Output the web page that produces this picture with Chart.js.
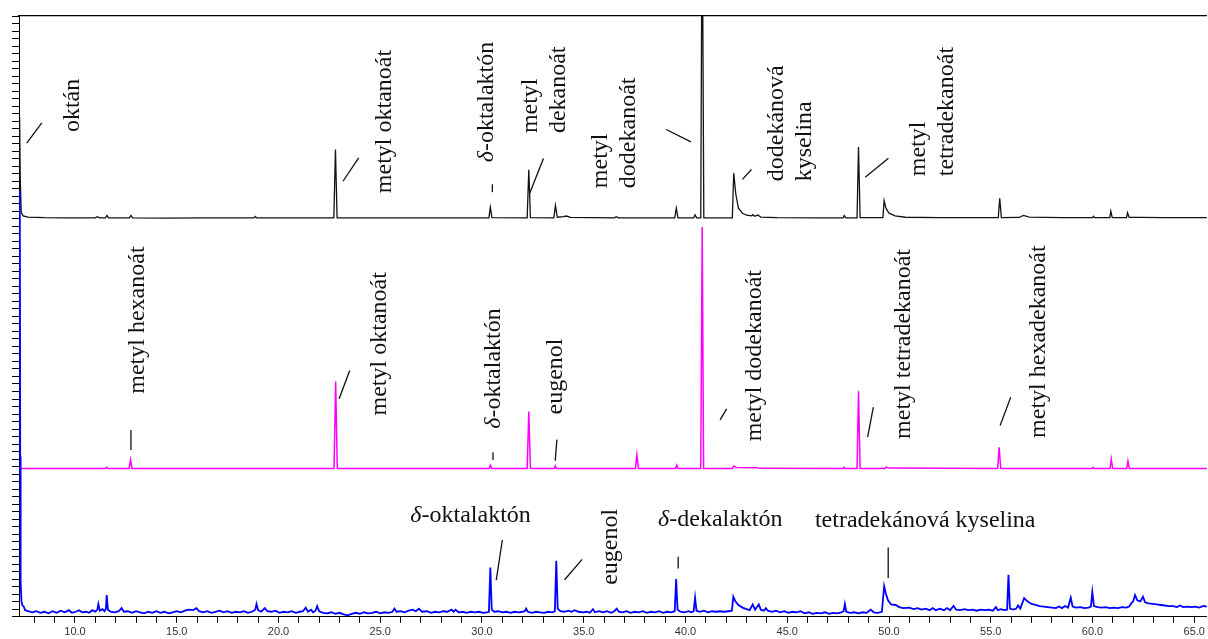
<!DOCTYPE html>
<html><head><meta charset="utf-8">
<script src="https://cdn.jsdelivr.net/npm/chart.js@4.4.1/dist/chart.umd.min.js"></script>
<style>html,body{margin:0;padding:0;background:#fff;overflow:hidden}</style>
</head><body>
<canvas id="c" width="1208" height="639"></canvas>
<script>
// ---- data (retention time [min], relative intensity) ----
const xMin = 7.25, xMax = 65.62;
const majorTicks = [10, 15, 20, 25, 30, 35, 40, 45, 50, 55, 60, 65];

const blackTrace = [
 [7.28,50],[7.31,20],[7.36,3],[7.45,1.2],[7.7,0.6],[8.5,0.3],[9.5,0.2],[10.5,0.2],[11.0,0.2],[11.1,0.8],[11.2,0.2],
 [11.5,0.2],[11.57,1.4],[11.65,0.2],[12.68,0.2],[12.75,1.4],[12.83,0.2],[14.5,0.1],[16.2,0.2],[18.8,0.2],[18.86,0.9],[18.93,0.2],
 [22.72,0.2],[22.80,34],[22.88,0.2],[25.5,0.2],[27.2,0.2],[30.34,0.2],[30.41,5.4],[30.49,0.3],[32.22,0.2],[32.30,24],[32.38,0.3],
 [33.53,0.2],[33.61,6.4],[33.7,0.5],[34.0,0.8],[34.15,1.1],[34.35,0.4],[36.5,0.2],[36.6,0.8],[36.7,0.2],[39.47,0.2],[39.55,5],[39.63,0.2],
 [40.4,0.2],[40.47,1.7],[40.55,0.2],[40.75,0.2],[40.80,120],[40.84,120],[40.90,0.2],[42.3,0.2],[42.37,22.3],[42.47,12],[42.6,5],[42.8,2.5],[43.0,1.5],
 [43.25,1.2],[43.3,1.8],[43.4,1.0],[43.55,1.6],[43.7,0.6],[44.5,0.3],[46.5,0.2],[47.75,0.2],[47.8,1.3],[47.88,0.2],[48.43,0.2],[48.50,35.2],[48.58,0.3],
 [49.7,0.3],[49.76,8.7],[49.85,5],[50.0,2.5],[50.3,1.2],[50.8,0.5],[52.5,0.3],[53.2,0.3],[55.37,0.3],[55.44,9.9],[55.52,0.3],[56.4,0.4],
 [56.6,1.4],[56.9,0.6],[58.5,0.3],[60.0,0.3],[60.04,1.0],[60.1,0.3],[60.85,0.3],[60.9,3.5],[60.97,0.3],[61.67,0.3],[61.72,2.8],[61.8,0.5],
 [62.3,0.4],[63.5,0.3],[65.62,0.3]
];

const magentaTrace = [
 [7.26,0],[11.5,0],[11.56,0.5],[11.62,0],[12.66,0],[12.73,3.7],[12.8,0],[22.73,0],[22.81,36],[22.89,0],[30.35,0],[30.41,1.4],[30.48,0],
 [32.22,0],[32.30,23.6],[32.38,0],[33.55,0],[33.6,1.1],[33.66,0],[37.54,0],[37.61,5.7],[37.69,0],[39.51,0],[39.57,1.4],[39.63,0],
 [40.75,0],[40.82,100],[40.89,0],[42.3,0],[42.37,1.1],[42.5,0.5],[43.5,0.4],[43.65,0.1],[47.75,0],[47.8,0.5],[47.85,0],
 [48.43,0],[48.50,32],[48.58,0],[49.8,0],[49.86,0.6],[50.0,0.2],[55.34,0],[55.41,8.8],[55.49,0],[59.98,0],[60.03,0.4],[60.08,0],
 [60.86,0],[60.92,3.9],[60.99,0],[61.68,0],[61.74,3.2],[61.81,0],[65.62,0]
];

const blueTrace = [
 [7.29,811],[7.31,300],[7.33,60],[7.37,22],[7.42,14],[7.48,12],[7.55,5],[7.7,3],[7.9,1],[8.1,3],[8.3,0],[8.5,2],[8.7,-1],[8.9,3],[9.1,0],
 [9.3,4],[9.5,1],[9.7,5],[9.85,0],[10.05,2],[10.2,5],[10.35,1],[10.55,2],[10.7,0],[10.85,5],[11.0,2],[11.1,6],[11.15,17],[11.22,4],[11.35,7],
 [11.45,3],[11.52,8],[11.56,34],[11.62,6],[11.75,2],[11.95,1],[12.15,3],[12.29,9],[12.4,2],[12.6,3],[12.8,0],[13.0,3],[13.2,1],[13.4,-1],
 [13.6,2],[13.8,0],[14.0,3],[14.2,0],[14.4,2],[14.6,-1],[14.8,1],[15.0,3],[15.2,1],[15.4,4],[15.6,6],[15.8,5],[15.97,9],[16.1,3],[16.3,1],
 [16.5,3],[16.7,0],[16.9,2],[17.1,4],[17.3,1],[17.5,3],[17.7,0],[17.9,2],[18.1,1],[18.3,3],[18.5,0],[18.7,2],[18.86,6],[18.92,17],[19.0,5],
 [19.15,2],[19.33,9],[19.45,3],[19.65,2],[19.85,4],[20.05,0],[20.25,2],[20.45,1],[20.65,3],[20.85,0],[21.05,2],[21.2,3],[21.34,10],[21.45,2],
 [21.6,6],[21.7,1],[21.82,4],[21.9,13],[22.0,3],[22.2,0],[22.4,-1],[22.6,1],[22.8,-2],[23.0,0],[23.2,-3],[23.4,-5],[23.6,-2],[23.8,0],
 [24.0,-2],[24.2,1],[24.4,-1],[24.6,0],[24.8,2],[25.0,-1],[25.2,1],[25.4,0],[25.6,2],[25.7,8],[25.8,2],[26.0,3],[26.2,1],[26.4,4],[26.6,6],
 [26.75,3],[26.9,8],[27.05,2],[27.3,3],[27.5,0],[27.7,2],[27.9,1],[28.1,3],[28.3,2],[28.5,6],[28.6,2],[28.7,6],[28.85,1],[29.05,2],[29.25,0],
 [29.45,2],[29.65,1],[29.85,2],[30.05,0],[30.25,1],[30.34,2],[30.41,87],[30.48,6],[30.6,2],[30.8,3],[31.0,1],[31.2,2],[31.4,0],[31.6,2],
 [31.8,1],[32.0,2],[32.1,3],[32.17,8],[32.25,2],[32.45,0],[32.65,2],[32.85,1],[33.05,0],[33.25,2],[33.45,1],[33.58,3],[33.65,100],[33.72,8],
 [33.85,3],[34.05,2],[34.25,4],[34.4,2],[34.55,5],[34.75,2],[34.95,1],[35.15,2],[35.3,0],[35.45,7],[35.55,1],[35.75,3],[35.95,1],[36.15,3],
 [36.35,0],[36.5,3],[36.62,8],[36.72,2],[36.9,1],[37.1,3],[37.3,0],[37.5,2],[37.7,1],[37.9,3],[38.1,0],[38.3,2],[38.5,1],[38.7,3],[38.9,0],
 [39.1,2],[39.3,1],[39.47,3],[39.54,65],[39.61,6],[39.75,2],[39.95,1],[40.15,3],[40.3,1],[40.4,3],[40.47,29],[40.54,4],[40.7,2],[40.9,4],
 [41.1,1],[41.3,3],[41.5,2],[41.7,3],[41.9,2],[42.1,3],[42.28,4],[42.35,31],[42.45,22],[42.6,15],[42.8,10],[43.0,7],[43.15,5],[43.3,16],
 [43.42,6],[43.6,16],[43.7,6],[43.85,4],[43.95,9],[44.05,4],[44.25,2],[44.45,4],[44.65,1],[44.85,3],[45.05,0],[45.25,2],[45.45,1],[45.65,3],
 [45.85,-1],[46.05,1],[46.25,-2],[46.45,0],[46.65,-1],[46.85,1],[47.05,-2],[47.25,0],[47.45,-1],[47.65,1],[47.77,3],[47.83,17],[47.9,2],
 [48.1,0],[48.3,1],[48.5,-1],[48.7,1],[48.9,0],[49.1,6],[49.25,1],[49.45,0],[49.65,2],[49.76,51],[49.85,36],[49.95,24],[50.1,16],[50.33,15],
 [50.5,11],[50.7,9],[50.99,10],[51.2,7],[51.4,9],[51.6,6],[51.8,8],[52.0,5],[52.15,9],[52.3,5],[52.5,8],[52.7,5],[52.85,9],[53.0,5],[53.17,13],
 [53.3,6],[53.5,5],[53.7,7],[53.9,5],[54.1,6],[54.3,4],[54.5,6],[54.7,5],[54.9,6],[55.1,4],[55.25,11],[55.35,5],[55.5,7],[55.65,5],[55.8,6],
 [55.87,73],[55.94,8],[56.1,6],[56.25,8],[56.34,14],[56.45,8],[56.64,28],[56.8,22],[57.0,17],[57.2,15],[57.4,13],[57.6,12],[57.8,11],[58.0,10],
 [58.2,9],[58.35,12],[58.5,9],[58.65,13],[58.8,10],[58.93,29],[59.02,12],[59.2,10],[59.4,11],[59.6,9],[59.8,10],[59.92,12],[59.99,40],[60.07,13],
 [60.25,11],[60.45,10],[60.65,11],[60.85,9],[61.05,10],[61.25,9],[61.45,11],[61.65,10],[61.8,12],[61.9,18],[62.0,22],[62.09,34],[62.2,24],
 [62.35,22],[62.48,31],[62.58,20],[62.75,18],[62.95,17],[63.15,16],[63.35,15],[63.55,14],[63.75,13],[63.95,13],[64.15,11],[64.3,14],[64.45,11],
 [64.65,12],[64.85,11],[65.05,12],[65.25,10],[65.45,13],[65.62,12]
];

// ---- peak labels (x = retention time, y = intensity on that trace's scale) ----
const blackLabels = [
 {lines:['oktán'], x:9.88, y:42.6},
 {lines:['metyl oktanoát'], x:25.22, y:12.4},
 {lines:['δ-oktalaktón'], x:30.23, y:27.7},
 {lines:['metyl','dekanoát'], x:32.41, y:42.1},
 {lines:['metyl','dodekanoát'], x:35.82, y:14.9},
 {lines:['dodekánová','kyselina'], x:44.46, y:18.3},
 {lines:['metyl','tetradekanoát'], x:51.48, y:20.8}
];
const magentaLabels = [
 {lines:['metyl hexanoát'], x:13.07, y:31.0},
 {lines:['metyl oktanoát'], x:24.96, y:22.0},
 {lines:['δ-oktalaktón'], x:30.57, y:16.5},
 {lines:['eugenol'], x:33.61, y:22.4},
 {lines:['metyl dodekanoát'], x:43.38, y:11.3},
 {lines:['metyl tetradekanoát'], x:50.70, y:12.3},
 {lines:['metyl hexadekanoát'], x:57.37, y:12.7}
];
const blueLabels = [
 {lines:['δ-oktalaktón'], x:29.44, y:186.5, flat:true},
 {lines:['eugenol'], x:36.31, y:53.8},
 {lines:['δ-dekalaktón'], x:41.71, y:178.8, flat:true},
 {lines:['tetradekánová kyselina'], x:51.78, y:176.9, flat:true}
];
const blackLeaders = [[7.63,37.1,8.37,47.2],[23.17,18.3,23.94,29.9],[30.51,16.8,30.51,12.9],[32.34,12.2,33.02,29.6],[39.05,43.9,40.27,37.8],[42.80,19.2,43.24,24.1],[48.83,20.3,49.97,29.7]];
const magentaLeaders = [[12.75,16.0,12.75,7.7],[22.98,28.9,23.50,40.6],[30.54,6.8,30.54,3.6],[33.60,3.3,33.68,12.0],[41.70,20.2,42.02,24.7],[48.95,13.0,49.23,25.4],[55.46,17.8,55.98,29.5]];
const blueLeaders = [[31.00,139.8,30.70,62.9],[34.92,102.5,34.06,63.5],[39.64,107.7,39.64,85.2],[49.96,125.6,49.96,66.7]];

// ---- layout: offset each trace on its own vertical scale ----
const PLOT_TOP = 16, PLOT_BOTTOM = 616;
function axisRange(basePx, pxPerUnit){ return {min: -(PLOT_BOTTOM-basePx)/pxPerUnit, max: (basePx-PLOT_TOP)/pxPerUnit}; }
const rBlack = axisRange(218, 2.02), rMag = axisRange(468, 2.413), rBlue = axisRange(612, 0.52);
const toXY = a => a.map(p => ({x:p[0], y:p[1]}));

const SERIF = "'Liberation Serif', 'Times New Roman', serif";
const labelPlugin = {
  id:'peakLabels',
  afterDatasetsDraw(chart){
    const ctx = chart.ctx, xs = chart.scales.x;
    const groups = [[blackLabels, blackLeaders, 'yBlack'], [magentaLabels, magentaLeaders, 'yMag'], [blueLabels, blueLeaders, 'yBlue']];
    ctx.save();
    ctx.strokeStyle = '#111'; ctx.lineWidth = 1.3; ctx.fillStyle = '#111';
    for (const [labels, leaders, yid] of groups){
      const ys = chart.scales[yid];
      for (const l of leaders){
        ctx.beginPath();
        ctx.moveTo(xs.getPixelForValue(l[0]), ys.getPixelForValue(l[1]));
        ctx.lineTo(xs.getPixelForValue(l[2]), ys.getPixelForValue(l[3]));
        ctx.stroke();
      }
      for (const lab of labels){
        const px = xs.getPixelForValue(lab.x), py = ys.getPixelForValue(lab.y);
        ctx.save();
        ctx.translate(px, py);
        ctx.textBaseline = 'middle';
        if (!lab.flat) ctx.rotate(-Math.PI/2);
        lab.lines.forEach((txt, i) => {
          const off = i*28;
          let parts = [];
          if (txt.startsWith('δ')) parts = [['δ', 'italic 24px '+SERIF], [txt.slice(1), '24px '+SERIF]];
          else parts = [[txt, '24px '+SERIF]];
          let total = 0;
          for (const [t,f] of parts){ ctx.font = f; total += ctx.measureText(t).width; }
          let cx = lab.flat ? -total/2 : 0;
          ctx.textAlign = 'left';
          for (const [t,f] of parts){ ctx.font = f; ctx.fillText(t, cx, off); cx += ctx.measureText(t).width; }
        });
        ctx.restore();
      }
    }
    ctx.restore();
  }
};

new Chart(document.getElementById('c'), {
  type:'line',
  data:{ datasets:[
    {data:toXY(blueTrace), yAxisID:'yBlue', borderColor:'#0000ff', borderWidth:1.8, pointRadius:0, tension:0},
    {data:toXY(magentaTrace), yAxisID:'yMag', borderColor:'#ff00ff', borderWidth:1.5, pointRadius:0, tension:0},
    {data:toXY(blackTrace), yAxisID:'yBlack', borderColor:'#111111', borderWidth:1.3, pointRadius:0, tension:0}
  ]},
  options:{
    responsive:false, animation:false, events:[],
    layout:{padding:{left:12, top:16, right:0, bottom:-3}},
    plugins:{legend:{display:false}, tooltip:{enabled:false}},
    scales:{
      x:{type:'linear', position:'bottom', min:xMin, max:xMax,
         ticks:{stepSize:1, autoSkip:false, includeBounds:false, maxRotation:0, padding:3, color:'#333',
                font:{family:"'Liberation Sans', Arial, sans-serif", size:11},
                callback:v => majorTicks.includes(v) ? v.toFixed(1) : ''},
         grid:{drawOnChartArea:false, drawTicks:true, tickLength:6, color:'#000'},
         border:{display:true, color:'#000', width:1}},
      xTop:{type:'linear', position:'top', min:xMin, max:xMax,
         ticks:{display:false}, grid:{display:false, drawTicks:false},
         border:{display:true, color:'#000', width:1.2}},
      yT:{type:'linear', position:'left', min:0, max:80,
         ticks:{display:false, stepSize:1, autoSkip:false},
         grid:{drawOnChartArea:false, drawTicks:true, tickLength:7, color:'#000'},
         border:{display:true, color:'#000', width:1}},
      yBlack:{type:'linear', display:false, min:rBlack.min, max:rBlack.max},
      yMag:{type:'linear', display:false, min:rMag.min, max:rMag.max},
      yBlue:{type:'linear', display:false, min:rBlue.min, max:rBlue.max}
    }
  },
  plugins:[labelPlugin]
});
</script>
</body></html>
